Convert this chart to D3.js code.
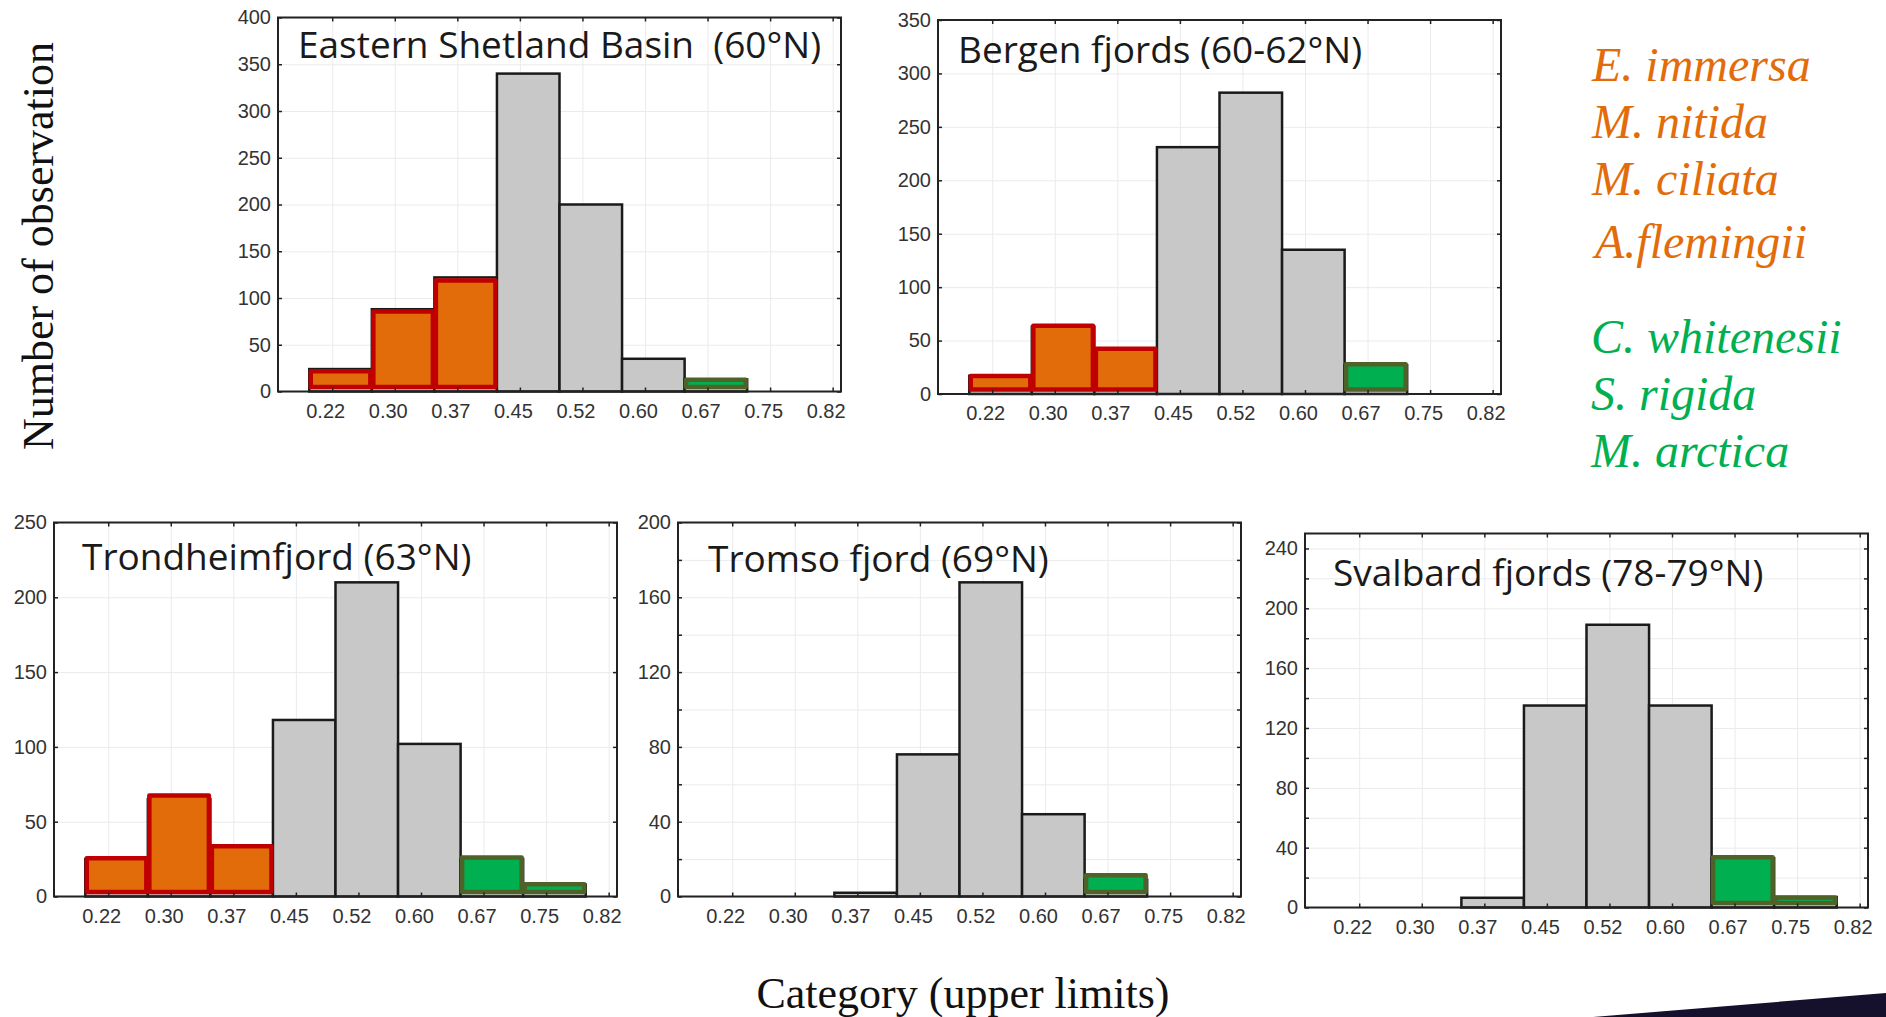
<!DOCTYPE html>
<html>
<head>
<meta charset="utf-8">
<script src="https://cdn.jsdelivr.net/npm/d3@7"></script>
<style>
  html, body { margin: 0; padding: 0; background: #fff; }
  svg { display: block; }
</style>
</head>
<body>
<svg id="chart" width="1886" height="1017"></svg>
<script>
// category upper limits printed under every panel
const binLabels = ["0.22", "0.30", "0.37", "0.45", "0.52", "0.60", "0.67", "0.75", "0.82"];
// lower edge of each bin (width 0.075)
const binStarts = [0.200, 0.275, 0.350, 0.425, 0.500, 0.575, 0.650, 0.725, 0.800];
const binWidth = 0.075;
// bins that got a coloured overlay: warm-water group / cold-water group
const binGroup = ["warm", "warm", "warm", null, null, null, "cold", "cold", null];

// grey histogram counts per region
const shetlandCounts  = [24, 88, 122, 340, 200, 35, 13, 0, 0];
const bergenCounts    = [17, 63, 42, 231, 282, 135, 27, 0, 0];
const trondheimCounts = [25, 65, 32, 118, 210, 102, 25, 8, 0];
const tromsoCounts    = [0, 0, 2, 76, 168, 44, 9, 0, 0];
const svalbardCounts  = [0, 0, 6.5, 135, 189, 135, 33, 7, 0];

// heights of the coloured overlay boxes (null = no overlay)
const shetlandMarked  = [24, 88, 121, null, null, null, 15, null, null];
const bergenMarked    = [19, 66, 44.5, null, null, null, 30, null, null];
const trondheimMarked = [27, 69, 35, null, null, null, 27.5, 9.6, null];
const tromsoMarked    = [null, null, null, null, null, null, 12.5, null, null];
const svalbardMarked  = [null, null, null, null, null, null, 35, 8.2, null];

const warmSpecies = ["E. immersa", "M. nitida", "M. ciliata", "A.flemingii"];
const coldSpecies = ["C. whitenesii", "S. rigida", "M. arctica"];

const groupFill   = { warm: "#e36c0a", cold: "#00b050" };
const groupStroke = { warm: "#c00000", cold: "#4f6228" };

const panels = [
  { title: "Eastern Shetland Basin  (60°N)", counts: shetlandCounts, marked: shetlandMarked,
    yMax: 400, yStep: 50, yLabelStep: 50, left: 278, top: 17.5, tdx: 20, tdy: 40 },
  { title: "Bergen fjords (60-62°N)", counts: bergenCounts, marked: bergenMarked,
    yMax: 350, yStep: 50, yLabelStep: 50, left: 938, top: 20, tdx: 20, tdy: 43 },
  { title: "Trondheimfjord (63°N)", counts: trondheimCounts, marked: trondheimMarked,
    yMax: 250, yStep: 50, yLabelStep: 50, left: 54, top: 522.5, tdx: 28, tdy: 47 },
  { title: "Tromso fjord (69°N)", counts: tromsoCounts, marked: tromsoMarked,
    yMax: 200, yStep: 20, yLabelStep: 40, left: 678, top: 522.5, tdx: 30, tdy: 49 },
  { title: "Svalbard fjords (78-79°N)", counts: svalbardCounts, marked: svalbardMarked,
    yMax: 250, yStep: 20, yLabelStep: 40, left: 1305, top: 533.5, tdx: 28, tdy: 52 }
];

const W = 563, H = 374;
const svg = d3.select("#chart");

const x = d3.scaleLinear().domain([0.1625, 0.8375]).range([0, W]);
// Statistica sets each tick a little right of the bin's lower edge
const tickPos = binStarts.map(d => d + 0.0275);

function styleTicks(sel) {
  sel.select(".domain").remove();
  sel.selectAll(".tick line").attr("stroke", "#222").attr("stroke-width", 1.5);
  sel.selectAll("text")
    .attr("font-family", "'Liberation Sans', Arial, sans-serif")
    .attr("font-size", 20)
    .attr("fill", "#333");
}

function styleGrid(sel) {
  sel.select(".domain").remove();
  sel.selectAll(".tick line").attr("stroke", "#ebebeb").attr("stroke-width", 1);
}

panels.forEach(p => {
  const g = svg.append("g").attr("transform", `translate(${p.left},${p.top})`);
  const y = d3.scaleLinear().domain([0, p.yMax]).range([H, 0]);
  const yTicks = d3.range(0, p.yMax + 1, p.yStep);

  // faint grid
  g.append("g").attr("transform", `translate(0,${H})`)
    .call(d3.axisBottom(x).tickValues(tickPos).tickSize(-H).tickFormat(""))
    .call(styleGrid);
  g.append("g")
    .call(d3.axisLeft(y).tickValues(yTicks).tickSize(-W).tickFormat(""))
    .call(styleGrid);

  const bins = binStarts.map((s, i) => ({
    s, n: p.counts[i], m: p.marked[i], group: binGroup[i]
  }));

  g.selectAll("rect.bar")
    .data(bins.filter(d => d.n > 0))
    .join("rect")
    .attr("class", "bar")
    .attr("x", d => x(d.s))
    .attr("width", d => x(d.s + binWidth) - x(d.s))
    .attr("y", d => y(d.n))
    .attr("height", d => y(0) - y(d.n))
    .attr("fill", "#c8c8c8")
    .attr("stroke", "#1a1a1a")
    .attr("stroke-width", 2.5);

  g.selectAll("rect.mark")
    .data(bins.filter(d => d.m != null && d.group))
    .join("rect")
    .attr("class", "mark")
    .attr("x", d => x(d.s) + 1.5)
    .attr("width", d => x(d.s + binWidth) - x(d.s) - 3)
    .attr("y", d => y(d.m) + 2.2)
    .attr("height", d => Math.max(1, y(0) - 4.5 - (y(d.m) + 2.2)))
    .attr("fill", d => groupFill[d.group])
    .attr("stroke", d => groupStroke[d.group])
    .attr("stroke-width", 4.5)
    .attr("stroke-linejoin", "round");

  // frame
  g.append("rect")
    .attr("width", W).attr("height", H)
    .attr("fill", "none").attr("stroke", "#222").attr("stroke-width", 2);

  // inward ticks on all four sides
  const xb = g.append("g").attr("transform", `translate(0,${H})`)
    .call(d3.axisBottom(x).tickValues(tickPos).tickSize(-4).tickPadding(12)
      .tickFormat((d, i) => binLabels[i]))
    .call(styleTicks);
  xb.selectAll("text").attr("dx", -7);

  g.append("g")
    .call(d3.axisTop(x).tickValues(tickPos).tickSize(-4).tickFormat(""))
    .call(styleTicks);

  g.append("g")
    .call(d3.axisLeft(y).tickValues(yTicks).tickSize(-4).tickPadding(7)
      .tickFormat(d => d % p.yLabelStep === 0 ? d : ""))
    .call(styleTicks);

  g.append("g").attr("transform", `translate(${W},0)`)
    .call(d3.axisRight(y).tickValues(yTicks).tickSize(-4).tickFormat(""))
    .call(styleTicks);

  g.append("text")
    .attr("x", p.tdx).attr("y", p.tdy)
    .style("white-space", "pre")
    .attr("font-family", "'Open Sans', sans-serif")
    .attr("font-size", 37)
    .attr("fill", "#1a1a1a")
    .text(p.title);
});

// shared axis titles
svg.append("text")
  .attr("transform", "translate(53,246) rotate(-90)")
  .attr("text-anchor", "middle")
  .attr("font-family", "'Liberation Serif', serif")
  .attr("font-size", 44)
  .attr("fill", "#111")
  .text("Number of observation");

svg.append("text")
  .attr("x", 963).attr("y", 1008)
  .attr("text-anchor", "middle")
  .attr("font-family", "'Liberation Serif', serif")
  .attr("font-size", 44)
  .attr("fill", "#111")
  .text("Category (upper limits)");

// species legend
const legend = svg.append("g")
  .attr("font-family", "'Liberation Serif', serif")
  .attr("font-style", "italic")
  .attr("font-size", 48);

legend.selectAll("text.warm")
  .data(warmSpecies)
  .join("text")
  .attr("class", "warm")
  .attr("x", (d, i) => i === 3 ? 1595 : 1592)
  .attr("y", (d, i) => 81 + i * 57 + (i === 3 ? 6 : 0))
  .attr("fill", groupFill.warm)
  .text(d => d);

legend.selectAll("text.cold")
  .data(coldSpecies)
  .join("text")
  .attr("class", "cold")
  .attr("x", 1591)
  .attr("y", (d, i) => 353 + i * 57)
  .attr("fill", groupFill.cold)
  .text(d => d);

// slide template corner
svg.append("path")
  .attr("d", "M1593,1017 L1886,993 L1886,1017 Z")
  .attr("fill", "#15102b");
</script>
</body>
</html>
